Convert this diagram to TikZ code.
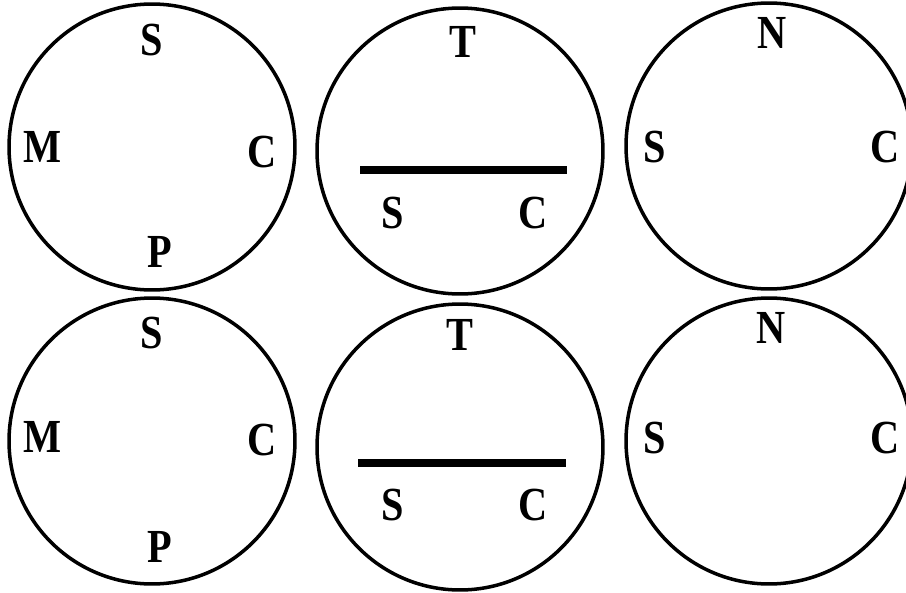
\documentclass[tikz,border=0pt]{standalone}
\usepackage{fontspec}
\newfontfamily\lblfont[FakeStretch=0.85]{Liberation Serif}
\usepackage{tikz}

\begin{document}
\begin{tikzpicture}[x=0.02cm,y=-0.02cm,
  ring/.style={circle,draw,line width=2pt,minimum size=5.72cm,inner sep=0pt},
  lbl/.style={font=\lblfont\bfseries\fontsize{27}{27}\selectfont,inner sep=0pt},
  bar/.style={line width=4pt}]
  \useasboundingbox (0,0) rectangle (906,592);
  % top row
  \node[ring] (r1) at (152,147) {};
  \node[ring] (r2) at (460,151) {};
  \node[ring] (r3) at (769,146) {};
  \node[lbl] (r1s) at (152,40) {S};
  \node[lbl] (r1m) at (43,147) {M};
  \node[lbl] (r1c) at (262,152) {C};
  \node[lbl] (r1p) at (160,252) {P};
  \node[lbl] (r2t) at (463,42) {T};
  \node[lbl] (r2s) at (393,213) {S};
  \node[lbl] (r2c) at (533,213) {C};
  \coordinate (r2a) at (360,170);
  \coordinate (r2b) at (567,170);
  \draw[bar] (r2a) -- (r2b);
  \node[lbl] (r3n) at (772,33) {N};
  \node[lbl] (r3s) at (655,147) {S};
  \node[lbl] (r3c) at (885,147) {C};
  % bottom row
  \node[ring] (r4) at (152,441) {};
  \node[ring] (r5) at (460,447) {};
  \node[ring] (r6) at (769,441) {};
  \node[lbl] (r4s) at (152,333) {S};
  \node[lbl] (r4m) at (43,437) {M};
  \node[lbl] (r4c) at (262,440) {C};
  \node[lbl] (r4p) at (160,547) {P};
  \node[lbl] (r5t) at (460,335) {T};
  \node[lbl] (r5s) at (393,505) {S};
  \node[lbl] (r5c) at (533,505) {C};
  \coordinate (r5a) at (358,463);
  \coordinate (r5b) at (566,463);
  \draw[bar] (r5a) -- (r5b);
  \node[lbl] (r6n) at (771,328) {N};
  \node[lbl] (r6s) at (655,438) {S};
  \node[lbl] (r6c) at (885,438) {C};
\end{tikzpicture}
\end{document}
